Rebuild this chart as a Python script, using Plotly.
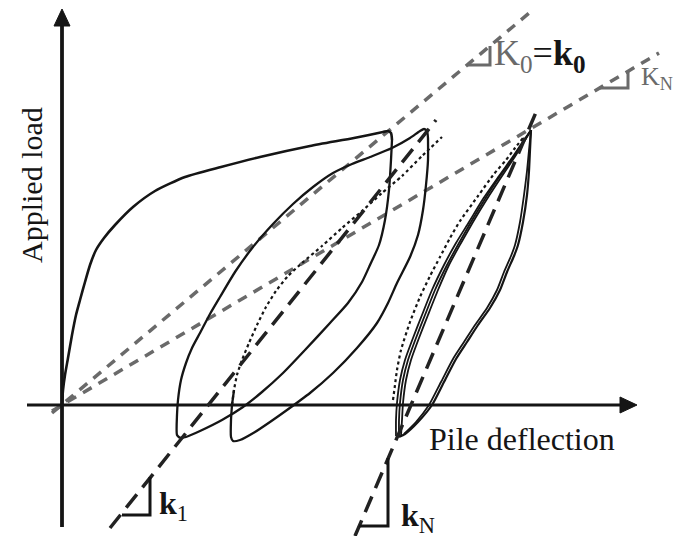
import plotly.graph_objects as go

# ---------------- data (deflection, load) in arbitrary schematic units ----------------
virgin_x = [0, 1, 3, 6, 10, 14, 18, 23, 28, 34, 42, 53, 71, 93, 123, 159, 198, 248, 292, 321, 326, 329, 330]
virgin_y = [0, 15, 30, 47, 70, 90, 105, 123, 140, 155, 167, 180, 198, 214, 228, 238, 248, 259, 267, 273, 274, 272, 265]

unload1_x = [330, 329, 327, 323, 317, 308, 300, 286, 268, 243, 221, 200, 181, 160, 138, 124, 118]
unload1_y = [265, 245, 215, 185, 160, 140, 123, 102, 82, 55, 32, 13, -2, -15, -26, -32, -33]

reload1_x = [118, 115, 115, 116, 119, 124, 130, 138, 148, 158, 173, 191, 211, 231, 251, 271, 290, 308, 330, 348, 358, 362, 365, 366]
reload1_y = [-33, -30, -10, 5, 25, 42, 57, 72, 91, 108, 133, 158, 181, 201, 218, 232, 241, 248, 257, 267, 274, 276, 274, 267]

unload2_x = [366, 366, 364, 361, 356, 348, 335, 326, 315, 295, 271, 248, 225, 208, 193, 178, 171, 169, 169, 170]
unload2_y = [267, 245, 220, 195, 170, 148, 122, 102, 82, 57, 32, 12, -5, -17, -27, -35, -36, -32, -15, 0]

reload2_x = [170, 172, 175, 180, 187, 195, 204, 214, 226, 240, 260, 280, 300, 320, 340, 360, 380]
reload2_y = [0, 15, 30, 45, 62, 80, 98, 114, 129, 142, 159, 177, 194, 212, 229, 249, 268]

# N-th cycle loop
loadN_a_x = [334, 334, 335, 338, 343, 351, 360, 370, 382, 394, 407, 421, 437, 452, 462, 469]
loadN_b_x = [337, 337, 338, 341, 346, 354, 363, 373, 385, 397, 409, 423, 438, 453, 463, 469]
loadN_c_x = [339, 340, 341, 344, 349, 357, 366, 376, 387, 399, 411, 425, 440, 454, 463, 469]
loadN_y = [-31, -15, 2, 25, 45, 67, 90, 115, 140, 162, 183, 206, 229, 250, 265, 275]

loadN_dot_x = [331, 333, 335, 339, 348, 358, 368, 378, 388, 398, 416, 432, 444, 453, 461]
loadN_dot_y = [5, 20, 35, 55, 83, 108, 129, 148, 167, 184, 209, 231, 245, 257, 267]

unloadN_a_x = [469, 468, 467, 465, 461, 456, 452, 445, 438, 428, 416, 405, 394, 382, 370, 356, 343, 337]
unloadN_a_y = [275, 255, 234, 210, 183, 160, 149, 133, 115, 97, 80, 63, 46, 23, 0, -17, -29, -32]
unloadN_b_x = [469, 467, 465, 462, 458, 453, 449, 442, 435, 425, 413, 402, 391, 379, 367, 354, 342]
unloadN_b_y = [275, 255, 234, 210, 183, 160, 149, 133, 115, 97, 80, 63, 46, 23, 0, -17, -29]

# stiffness lines
k1_x = [48, 374]
k1_y = [-123, 285]
kN_x = [293, 475]
kN_y = [-131, 295]
K0_x = [-10, 472]
K0_y = [-8, 396]
KNs_x = [-10, 597]
KNs_y = [-6, 352]

# slope triangles
tri_k1_x = [60, 88, 88]
tri_k1_y = [-110, -110, -72]
tri_kN_x = [297, 326, 326]
tri_kN_y = [-121, -121, -53]
tri_K0_x = [406, 428, 428]
tri_K0_y = [340, 340, 359]
tri_KN_x = [537, 566, 566]
tri_KN_y = [317, 317, 334]

# axes extents
xaxis_ext = [-35, 558]
xaxis_tip = 575
yaxis_ext = [-122, 379]
yaxis_tip = 396

BLACK = "#151515"
GRAY = "#6a6a6a"

fig = go.Figure()

def line(x, y, color=BLACK, width=2, dash="solid"):
    fig.add_trace(go.Scatter(x=x, y=y, mode="lines", hoverinfo="skip",
                             line=dict(color=color, width=width, dash=dash, shape="spline", smoothing=0.6)))

def straight(x, y, color=BLACK, width=2, dash="solid"):
    fig.add_trace(go.Scatter(x=x, y=y, mode="lines", hoverinfo="skip",
                             line=dict(color=color, width=width, dash=dash)))

# gray secant lines
straight(K0_x, K0_y, GRAY, 3.5, "10px,8px")
straight(KNs_x, KNs_y, GRAY, 3.5, "10px,8px")

# axes
straight(xaxis_ext, [0, 0], BLACK, 3.2)
straight([0, 0], yaxis_ext, BLACK, 3.8)
fig.add_trace(go.Scatter(x=[xaxis_ext[1], xaxis_tip, xaxis_ext[1], xaxis_ext[1]], y=[-8, 0, 8, -8],
                         fill="toself", fillcolor=BLACK, mode="lines", line=dict(color=BLACK, width=1), hoverinfo="skip"))
fig.add_trace(go.Scatter(x=[-8, 0, 8, -8], y=[yaxis_ext[1], yaxis_tip, yaxis_ext[1], yaxis_ext[1]],
                         fill="toself", fillcolor=BLACK, mode="lines", line=dict(color=BLACK, width=1), hoverinfo="skip"))

# hysteresis curves
line(virgin_x, virgin_y, BLACK, 2.6)
line(unload1_x, unload1_y, BLACK, 2.3)
line(reload1_x, reload1_y, BLACK, 2.3)
line(unload2_x, unload2_y, BLACK, 2.3)
line(reload2_x[:2], reload2_y[:2], BLACK, 2.3)
line(reload2_x, reload2_y, BLACK, 2.2, "3px,3px")

line(loadN_a_x, loadN_y, BLACK, 1.8)
line(loadN_b_x, loadN_y, BLACK, 1.8)
line(loadN_c_x, loadN_y, BLACK, 1.8)
line(loadN_dot_x, loadN_dot_y, BLACK, 2.2, "3px,3px")
line(unloadN_a_x, unloadN_a_y, BLACK, 2.2)
line(unloadN_b_x, unloadN_b_y, BLACK, 1.8)

# black stiffness lines
straight(k1_x, k1_y, "#222222", 3.5, "17px,9px")
straight(kN_x, kN_y, "#222222", 3.5, "17px,9px")

# triangles
straight(tri_k1_x, tri_k1_y, BLACK, 3)
straight(tri_kN_x, tri_kN_y, BLACK, 3)
straight(tri_K0_x, tri_K0_y, GRAY, 3)
straight(tri_KN_x, tri_KN_y, GRAY, 3)

FONT = "Liberation Serif"
ann = [
    dict(x=-31, y=220, text="Applied load", textangle=-90, font=dict(family=FONT, size=30, color=BLACK),
         showarrow=False, xanchor="center", yanchor="middle"),
    dict(x=365, y=-34, text="Pile deflection", font=dict(family=FONT, size=32, color=BLACK),
         showarrow=False, xanchor="left", yanchor="middle"),
    dict(x=430, y=350, text="<span style='color:#6a6a6a'>K<sub>0</sub></span>=<b>k<sub>0</sub></b>",
         font=dict(family=FONT, size=36, color=BLACK), showarrow=False, xanchor="left", yanchor="middle"),
    dict(x=577, y=327, text="K<sub>N</sub>", font=dict(family=FONT, size=26, color=GRAY),
         showarrow=False, xanchor="left", yanchor="middle"),
    dict(x=95, y=-100, text="<b>k</b><sub>1</sub>", font=dict(family=FONT, size=32, color=BLACK),
         showarrow=False, xanchor="left", yanchor="middle"),
    dict(x=337, y=-112, text="<b>k</b><sub>N</sub>", font=dict(family=FONT, size=32, color=BLACK),
         showarrow=False, xanchor="left", yanchor="middle"),
]

fig.update_layout(
    width=689, height=536, margin=dict(l=0, r=0, t=0, b=0),
    paper_bgcolor="white", plot_bgcolor="white", showlegend=False,
    xaxis=dict(range=[-62, 627], visible=False, fixedrange=True),
    yaxis=dict(range=[-131, 405], visible=False, fixedrange=True),
    annotations=ann,
)

fig.write_html("out.html", config={"displayModeBar": False},
               post_script="document.body.style.margin='0';document.body.style.overflow='hidden';")
